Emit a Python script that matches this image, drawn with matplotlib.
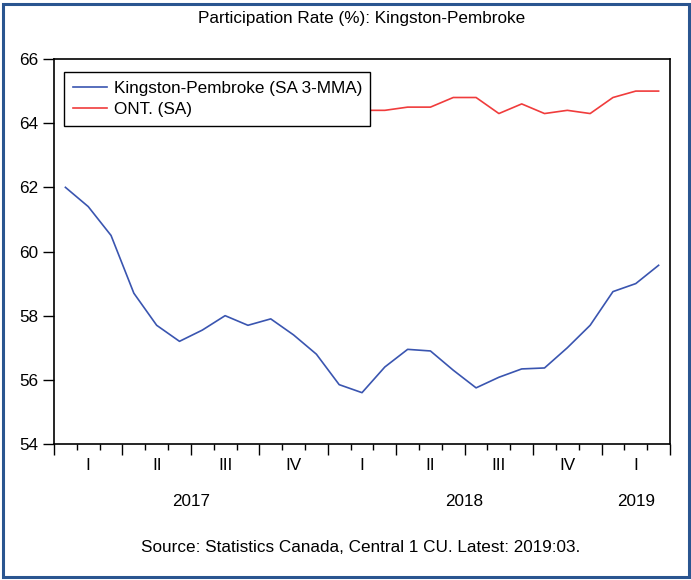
import matplotlib
matplotlib.use("Agg")
import matplotlib.pyplot as plt
from matplotlib.patches import Rectangle
from matplotlib.transforms import blended_transform_factory

plt.rcParams['font.family'] = ['Liberation Sans', 'DejaVu Sans']

months = list(range(27))  # Jan 2017 .. Mar 2019
kingston = [62.0, 61.4, 60.5, 58.7, 57.7, 57.2, 57.55, 58.0, 57.7, 57.9, 57.4, 56.8,
            55.85, 55.6, 56.4, 56.95, 56.9, 56.3, 55.75, 56.08, 56.34, 56.37, 57.0, 57.7,
            58.75, 59.0, 59.57]
ontario = [64.8, 64.7, 64.9, 64.7, 64.7, 64.6, 64.7, 64.5, 64.6, 64.7, 64.6, 64.6,
           64.5, 64.4, 64.4, 64.5, 64.5, 64.8, 64.8, 64.3, 64.6, 64.3, 64.4, 64.3,
           64.8, 65.0, 65.0]
quarter_labels = ['I', 'II', 'III', 'IV', 'I', 'II', 'III', 'IV', 'I']
years = ['2017', '2018', '2019']
year_centers = [6, 18, 25.5]
yticks = [54, 56, 58, 60, 62, 64, 66]

FS = 12.3
W, H = 691, 580
fig = plt.figure(figsize=(W / 100, H / 100), dpi=100)
ax = fig.add_axes([54 / W, 1 - 444 / H, (670 - 54) / W, (444 - 59) / H])

x = [m + 0.5 for m in months]
l1, = ax.plot(x, kingston, color='#3a55b0', lw=1.2, label='Kingston-Pembroke (SA 3-MMA)', zorder=3)
l2, = ax.plot(x, ontario, color='#f03c3c', lw=1.2, label='ONT. (SA)', zorder=2)

ax.set_xlim(0, 27)
ax.set_ylim(54, 66)
ax.set_yticks(yticks)
ax.set_yticklabels([str(v) for v in yticks], fontsize=FS)
ax.tick_params(axis='y', direction='out', length=8, width=1, pad=3)

ax.set_xticks(range(0, 28, 3))
ax.set_xticks(range(28), minor=True)
ax.set_xticklabels([])
ax.tick_params(axis='x', which='major', direction='out', length=8, width=1)
ax.tick_params(axis='x', which='minor', direction='out', length=4, width=1)

for s in ax.spines.values():
    s.set_linewidth(1.2)
    s.set_color('black')

trans = blended_transform_factory(ax.transData, fig.transFigure)
for i, q in enumerate(quarter_labels):
    ax.text(i * 3 + 1.5, 1 - 466 / H, q, transform=trans, ha='center', va='center', fontsize=FS)
for yc, yl in zip(year_centers, years):
    ax.text(yc, 1 - 501 / H, yl, transform=trans, ha='center', va='center', fontsize=FS)

leg = ax.legend(handles=[l1, l2], loc='upper left', bbox_to_anchor=(10 / 616, 1 - 13 / 385),
                fontsize=FS, frameon=True, fancybox=False, framealpha=1, edgecolor='black',
                borderpad=0.5, handlelength=2.0, handletextpad=0.4, labelspacing=0.4,
                borderaxespad=0)
leg.get_frame().set_linewidth(1.0)
leg.set_zorder(5)

fig.text(362 / W, 1 - 18 / H, 'Participation Rate (%): Kingston-Pembroke', ha='center', va='center', fontsize=FS)
fig.text(361 / W, 1 - 548 / H, 'Source: Statistics Canada, Central 1 CU. Latest: 2019:03.', ha='center', va='center', fontsize=FS)

fig.patches.append(Rectangle((3 / W, 3 / H), (689 - 3) / W, (576 - 3) / H, transform=fig.transFigure,
                             fill=False, edgecolor='#2a5590', linewidth=2.2, zorder=10))

fig.savefig('out.png', dpi=100)
